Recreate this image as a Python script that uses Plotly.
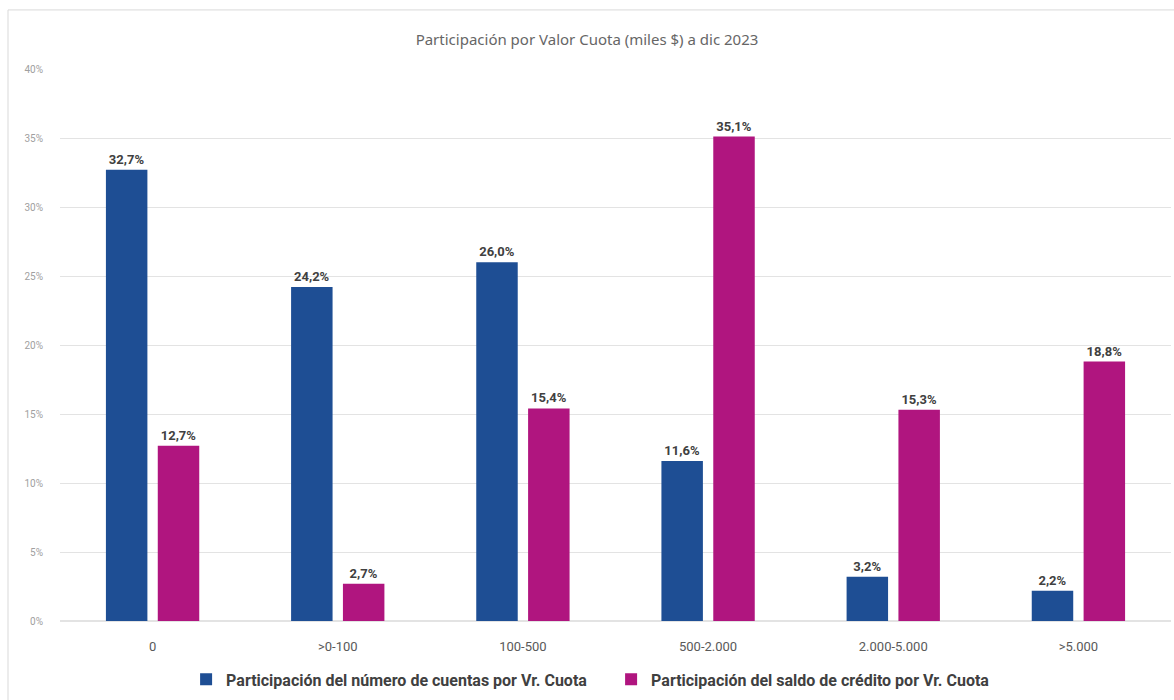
import plotly.graph_objects as go

categories = ["0", ">0-100", "100-500", "500-2.000", "2.000-5.000", ">5.000"]
cuentas = [0.327, 0.242, 0.260, 0.116, 0.032, 0.022]
saldo = [0.127, 0.027, 0.154, 0.351, 0.153, 0.188]
series_names = ["Participación del número de cuentas por Vr. Cuota",
                "Participación del saldo de crédito por Vr. Cuota"]
title_text = "Participación por Valor Cuota (miles $) a dic 2023"

BLUE = "#1E4E94"
MAGENTA = "#B0157F"

fig = go.Figure()
for name, vals, col in [(series_names[0], cuentas, BLUE), (series_names[1], saldo, MAGENTA)]:
    fig.add_trace(go.Bar(
        x=categories, y=vals, name=name,
        marker=dict(color=col, line=dict(width=0)),
        texttemplate="<b>%{y:.1%}</b>", textposition="outside",
        textfont=dict(size=13, color="#404040", family="Roboto"),
        cliponaxis=False,
    ))

fig.update_layout(
    width=1174, height=700,
    margin=dict(l=60, r=3, t=69, b=79, autoexpand=False),
    paper_bgcolor="white", plot_bgcolor="white",
    separators=",.",
    barmode="group", bargap=0.44, bargroupgap=0.2,
    title=dict(text=title_text, x=0.5, xanchor="center", y=0.943, yanchor="middle",
               font=dict(size=15, color="#666666", family="Noto Sans")),
    font=dict(family="Roboto", color="#595959"),
    showlegend=True,
    legend=dict(orientation="h", x=0.1135, xanchor="left", y=-0.075, yanchor="top",
                font=dict(size=16, color="#404040", family="Roboto", weight="bold"),
                traceorder="normal", itemwidth=30,
                entrywidth=380, entrywidthmode="pixels"),
    shapes=[dict(type="rect", xref="paper", yref="paper",
                 x0=-0.0468, x1=1.05, y0=-0.2, y1=1.107,
                 line=dict(color="#D9D9D9", width=1), fillcolor="rgba(0,0,0,0)", layer="below")],
)
fig.update_yaxes(range=[0, 0.40], dtick=0.05, tickformat=".0%",
                 showgrid=True, gridcolor="#E3E3E3", gridwidth=1,
                 zeroline=True, zerolinecolor="#E3E3E3", showline=False,
                 tickfont=dict(size=10, color="#A0A0A0"), ticks="", ticklabelstandoff=16)
fig.update_xaxes(showline=False, ticks="", tickfont=dict(size=13, color="#595959"),
                 ticklabelstandoff=16)

fig.write_html("out.html")
